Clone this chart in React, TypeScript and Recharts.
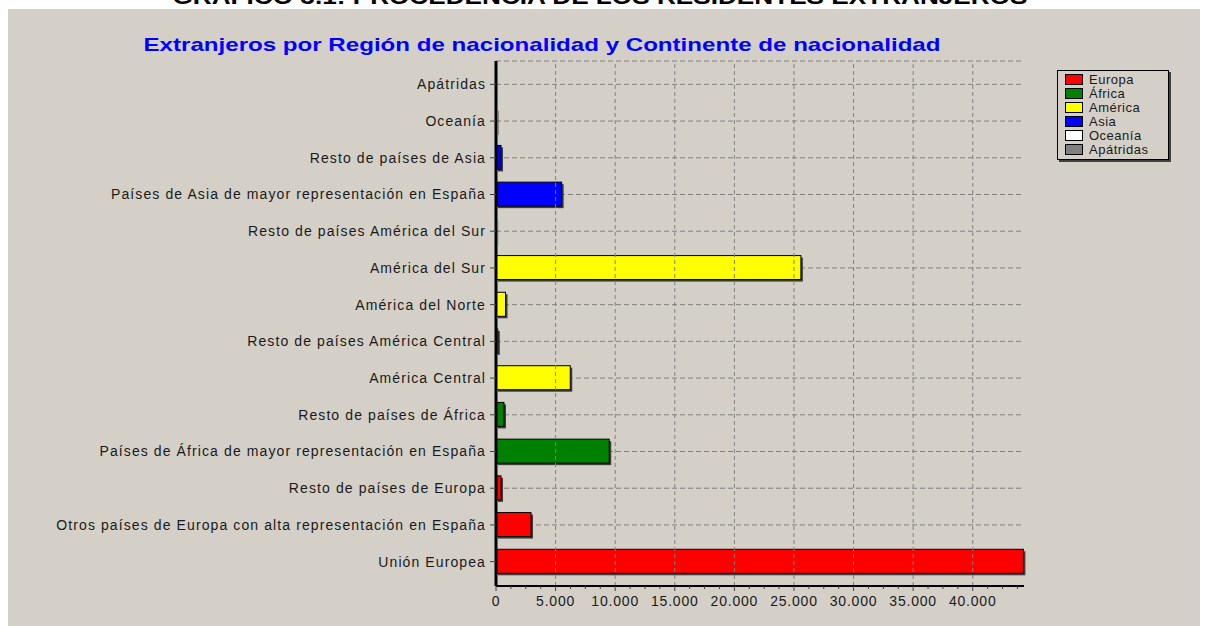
import { Bar, BarChart, CartesianGrid, Cell, Legend, ReferenceLine, XAxis, YAxis } from "recharts"

const categories = [
  "Apátridas",
  "Oceanía",
  "Resto de países de Asia",
  "Países de Asia de mayor representación en España",
  "Resto de países América del Sur",
  "América del Sur",
  "América del Norte",
  "Resto de países América Central",
  "América Central",
  "Resto de países de África",
  "Países de África de mayor representación en España",
  "Resto de países de Europa",
  "Otros países de Europa con alta representación en España",
  "Unión Europea",
]

const values = [3, 40, 420, 5510, 15, 25580, 800, 150, 6230, 670, 9500, 420, 2935, 44250]

const regionContinent = [
  "Apátridas",
  "Oceanía",
  "Asia",
  "Asia",
  "América",
  "América",
  "América",
  "América",
  "América",
  "África",
  "África",
  "Europa",
  "Europa",
  "Europa",
]

const continentNames = ["Europa", "África", "América", "Asia", "Oceanía", "Apátridas"]
const continentColors = ["#ff0000", "#008000", "#ffff00", "#0000ff", "#ffffff", "#808080"]

const majorTicks = [0, 5000, 10000, 15000, 20000, 25000, 30000, 35000, 40000]
const minorTicks = Array.from({ length: 36 }, (_, i) => i * 1250)
const xMax = 44300

const data = categories.map((name, i) => ({ name, value: values[i], continent: regionContinent[i] }))

const FONT = "'Liberation Sans', Arial, sans-serif"
const BG = "#d4d0c8"

const fmt = (v: number) => v.toLocaleString("de-DE")

const colorOf = (c: string) => continentColors[continentNames.indexOf(c)]

// barra con borde negro y sombra oscura
const ShadowBar = (props: any) => {
  const { x, y, width, height, fill } = props
  if (!width || width <= 0) return <g />
  return (
    <g>
      <rect x={x + 2} y={y + 2} width={width} height={height} fill="#3c3c3c" />
      <rect x={x} y={y} width={width} height={height} fill={fill} stroke="#000" strokeWidth={1} />
    </g>
  )
}

const XTick = (props: any) => {
  const { x, y, payload } = props
  const major = payload.value % 5000 === 0
  return (
    <g>
      <line x1={x} x2={x} y1={y} y2={y + (major ? 5 : 3)} stroke="#404040" />
      {major && (
        <text x={x} y={y + 20} textAnchor="middle" fontSize={14} letterSpacing={0.8} fill="#1a1a1a" fontFamily={FONT}>
          {fmt(payload.value)}
        </text>
      )}
    </g>
  )
}

const LegendBox = () => (
  <div
    style={{
      width: 110,
      padding: "1px 0 3px 0",
      border: "1px solid #000",
      background: BG,
      boxShadow: "2px 2px 0 #404040",
      fontFamily: FONT,
      fontSize: 13,
      color: "#1a1a1a",
    }}
  >
    {continentNames.map((n, i) => (
      <div key={n} style={{ display: "flex", alignItems: "center", height: 14, paddingLeft: 7 }}>
        <span
          style={{
            display: "inline-block",
            width: 16,
            height: 9,
            background: continentColors[i],
            border: "1px solid #000",
            marginRight: 6,
          }}
        />
        <span style={{ letterSpacing: 0.5 }}>{n}</span>
      </div>
    ))}
  </div>
)

export default function App() {
  return (
    <div style={{ position: "absolute", left: 0, top: 0, width: 1208, height: 626, background: "#fff", overflow: "hidden" }}>
      <div style={{ position: "absolute", left: 8, top: 9, width: 1192, height: 617, background: BG }} />
      <svg width={1208} height={626} style={{ position: "absolute", left: 0, top: 0 }}>
        <text x={600} y={4} textAnchor="middle" fontSize={22} fontWeight="bold" fill="#000" fontFamily={FONT} textLength={855} lengthAdjust="spacingAndGlyphs">
          GRÁFICO 3.1: PROCEDENCIA DE LOS RESIDENTES EXTRANJEROS
        </text>
        <text x={542} y={51} textAnchor="middle" fontSize={19} fontWeight="bold" fill="#0000ff" fontFamily={FONT} textLength={797} lengthAdjust="spacingAndGlyphs">
          Extranjeros por Región de nacionalidad y Continente de nacionalidad
        </text>
      </svg>
      <div style={{ position: "absolute", left: 0, top: 0 }}>
        <BarChart
          width={1208}
          height={626}
          data={data}
          layout="vertical"
          margin={{ top: 61, right: 184, bottom: 0, left: 0 }}
          barSize={24}
        >
          <CartesianGrid vertical={false} stroke="#808080" strokeDasharray="5 3" />
          {majorTicks.slice(1).map((t) => (
            <ReferenceLine key={t} x={t} stroke="#808080" strokeDasharray="4 3" />
          ))}
          <XAxis
            type="number"
            domain={[0, xMax]}
            ticks={minorTicks}
            interval={0}
            tick={<XTick />}
            tickLine={false}
            tickSize={0}
            tickMargin={0}
            height={40}
            axisLine={{ stroke: "#000", strokeWidth: 2 }}
          />
          <XAxis
            xAxisId="top"
            orientation="top"
            type="number"
            domain={[0, xMax]}
            height={0}
            tick={false}
            tickLine={false}
            axisLine={{ stroke: "#000", strokeWidth: 1.5 }}
          />
          <YAxis
            type="category"
            dataKey="name"
            width={496}
            interval={0}
            padding={{ top: 5, bottom: 6 }}
            tickSize={6}
            tickMargin={4}
            tickLine={{ stroke: "#404040" }}
            axisLine={{ stroke: "#000", strokeWidth: 3 }}
            tick={{ fontSize: 14, fill: "#1a1a1a", fontFamily: FONT, letterSpacing: 1.1 }}
          />
          <YAxis
            yAxisId="right"
            orientation="right"
            type="category"
            dataKey="name"
            width={0}
            tick={false}
            tickLine={false}
            axisLine={{ stroke: "#000", strokeWidth: 1.5 }}
          />
          <Legend
            layout="vertical"
            align="center"
            verticalAlign="middle"
            content={() => <LegendBox />}
            wrapperStyle={{ left: 1057, top: 70, width: "auto" }}
          />
          <Bar dataKey="value" shape={<ShadowBar />} isAnimationActive={false} legendType="none">
            {data.map((d) => (
              <Cell key={d.name} fill={colorOf(d.continent)} />
            ))}
          </Bar>
        </BarChart>
      </div>
    </div>
  )
}
